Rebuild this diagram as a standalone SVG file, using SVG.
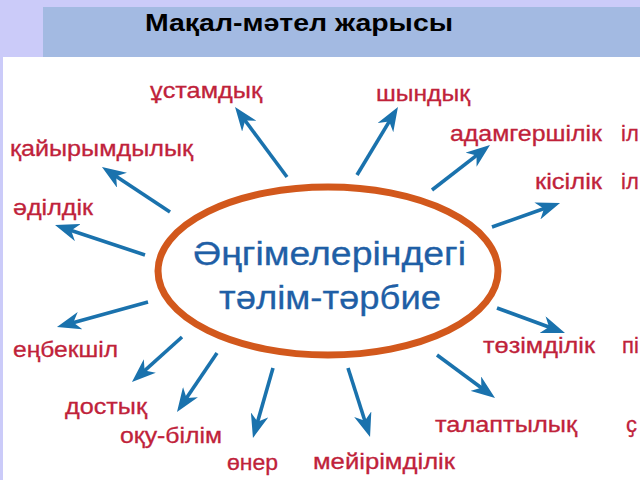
<svg xmlns="http://www.w3.org/2000/svg" width="640" height="480" viewBox="0 0 640 480">
<style>
.lbl{font-family:"Liberation Sans",Arial,sans-serif;font-size:22px;fill:#c0223a;stroke:#c0223a;stroke-width:0.3;}
.ctr{font-family:"Liberation Sans",Arial,sans-serif;font-size:33px;fill:#1f5fa6;stroke:#1f5fa6;stroke-width:0.3;}
.hdr{font-family:"Liberation Sans",Arial,sans-serif;font-size:24px;font-weight:bold;fill:#000;}
.arr{stroke:#1a72ad;stroke-width:3.6;fill:none;marker-end:url(#ah);}
</style>
<defs>
<marker id="ah" viewBox="0 0 24 18" refX="14" refY="9" markerWidth="24" markerHeight="18" markerUnits="userSpaceOnUse" orient="auto">
<path d="M0,0 L24,9 L0,18 L7,9 Z" fill="#1a72ad"/>
</marker>
</defs>
<rect x="0" y="0" width="640" height="480" fill="#cbcbf9"/>
<rect x="43" y="7" width="597" height="50" fill="#a3bae2"/>
<rect x="3" y="57" width="637" height="423" fill="#ffffff"/>
<g id="title"><text class="hdr" x="145" y="31" textLength="308" lengthAdjust="spacingAndGlyphs">Мақал-мәтел жарысы</text></g>
<g id="connectors">
<path class="arr" d="M287,177 L241,115"/>
<path class="arr" d="M170,212 L110.3,172.5"/>
<path class="arr" d="M145,255 L64.5,228.2"/>
<path class="arr" d="M357,175 L392.8,115.6"/>
<path class="arr" d="M432,190 L482.1,151.1"/>
<path class="arr" d="M492,227 L550.6,206.3"/>
<path class="arr" d="M148,302 L66.6,324.4"/>
<path class="arr" d="M182,337 L139.4,375.3"/>
<path class="arr" d="M217,353 L182.6,403.7"/>
<path class="arr" d="M273,368 L255.7,428.4"/>
<path class="arr" d="M348,368 L367,427.5"/>
<path class="arr" d="M437,355 L487,392"/>
<path class="arr" d="M497,308 L555.6,329.5"/>
</g>
<g id="center">
<ellipse cx="328" cy="271" rx="170" ry="84" fill="#ffffff" stroke="#d2581c" stroke-width="7"/>
<text class="ctr" x="193" y="265" textLength="273" lengthAdjust="spacingAndGlyphs">Әңгімелеріндегі</text>
<text class="ctr" x="219" y="309" textLength="222" lengthAdjust="spacingAndGlyphs">тәлім-тәрбие</text>
</g>
<g id="n-ustamdyq"><text class="lbl" x="150" y="98" textLength="112" lengthAdjust="spacingAndGlyphs">ұстамдық</text></g>
<g id="n-shyndyq"><text class="lbl" x="376" y="101" textLength="94" lengthAdjust="spacingAndGlyphs">шындық</text></g>
<g id="n-adamgershilik"><text class="lbl" x="450" y="141" textLength="152" lengthAdjust="spacingAndGlyphs">адамгершілік</text></g>
<g id="n-kisilik"><text class="lbl" x="535" y="189" textLength="67" lengthAdjust="spacingAndGlyphs">кісілік</text></g>
<g id="n-qaiyrymdylyq"><text class="lbl" x="10" y="156" textLength="183" lengthAdjust="spacingAndGlyphs">қайырымдылық</text></g>
<g id="n-adildik"><text class="lbl" x="13" y="215" textLength="80" lengthAdjust="spacingAndGlyphs">әділдік</text></g>
<g id="n-enbekshil"><text class="lbl" x="13" y="357" textLength="105" lengthAdjust="spacingAndGlyphs">еңбекшіл</text></g>
<g id="n-dostyq"><text class="lbl" x="65" y="414" textLength="82" lengthAdjust="spacingAndGlyphs">достық</text></g>
<g id="n-oqu-bilim"><text class="lbl" x="120" y="443" textLength="102" lengthAdjust="spacingAndGlyphs">оқу-білім</text></g>
<g id="n-oner"><text class="lbl" x="227" y="470" textLength="51" lengthAdjust="spacingAndGlyphs">өнер</text></g>
<g id="n-meirimdilik"><text class="lbl" x="313" y="469" textLength="142" lengthAdjust="spacingAndGlyphs">мейірімділік</text></g>
<g id="n-talaptylyq"><text class="lbl" x="435" y="432" textLength="142" lengthAdjust="spacingAndGlyphs">талаптылық</text></g>
<g id="n-tozimdilik"><text class="lbl" x="483" y="353" textLength="112" lengthAdjust="spacingAndGlyphs">төзімділік</text></g>
<g id="edge-fragments">
<text class="lbl" x="621" y="141">іл</text>
<text class="lbl" x="621" y="189">іл</text>
<text class="lbl" x="622" y="353">пі</text>
<text class="lbl" x="626" y="432">ҫ</text>
</g>
</svg>
